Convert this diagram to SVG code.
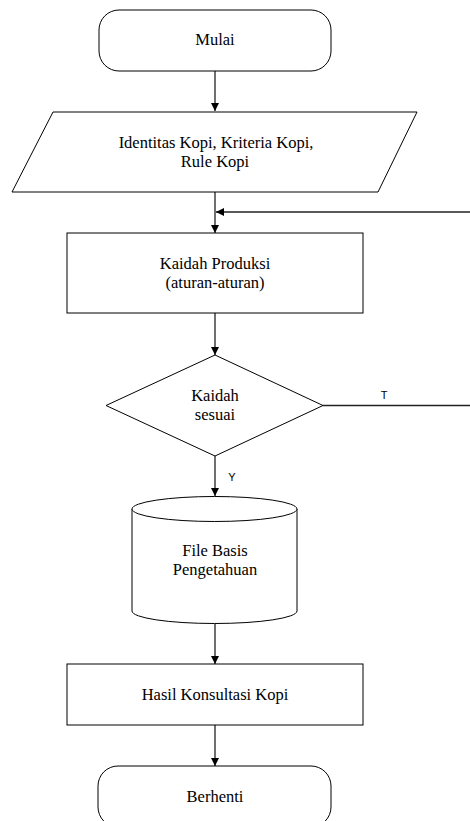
<svg xmlns="http://www.w3.org/2000/svg" width="470" height="821" viewBox="0 0 470 821">
<style>
.shape{fill:#fff;stroke:#000;stroke-width:1}
.lbl{font-family:"Liberation Serif","Times New Roman",serif;font-size:16.5px;fill:#000;text-anchor:middle}
.yt{font-family:"Liberation Sans",Arial,sans-serif;font-size:11px;fill:#000;text-anchor:middle}
.con{stroke:#222;stroke-width:1.3;fill:none}
</style>
<defs>
<marker id="arr" markerUnits="userSpaceOnUse" markerWidth="8" markerHeight="8" refX="8" refY="4" orient="auto">
<path d="M0,0 L8,4 L0,8 z" fill="#000"/>
</marker>
</defs>
<rect width="470" height="821" fill="#fff"/>
<g id="connectors">
<line class="con" x1="215" y1="71" x2="215" y2="111" marker-end="url(#arr)"/>
<line class="con" x1="215" y1="192" x2="215" y2="233" marker-end="url(#arr)"/>
<line class="con" x1="470" y1="212" x2="216" y2="212" marker-end="url(#arr)"/>
<line class="con" x1="215" y1="313" x2="215" y2="355" marker-end="url(#arr)"/>
<line class="con" x1="323" y1="405.5" x2="470" y2="405.5"/>
<line class="con" x1="215" y1="456" x2="215" y2="496" marker-end="url(#arr)"/>
<line class="con" x1="215" y1="624" x2="215" y2="664" marker-end="url(#arr)"/>
<line class="con" x1="215" y1="725" x2="215" y2="766" marker-end="url(#arr)"/>
<text class="yt" x="384" y="398.5">T</text>
<text class="yt" x="232" y="481">Y</text>
</g>
<g id="mulai">
<rect class="shape" x="99" y="10" width="232" height="61" rx="20"/>
<text class="lbl" x="215" y="45">Mulai</text>
</g>
<g id="input">
<polygon class="shape" points="53,112 417,112 378,192 12,192"/>
<text class="lbl" x="216" y="147.5">Identitas Kopi, Kriteria Kopi,</text>
<text class="lbl" x="215" y="166.5">Rule Kopi</text>
</g>
<g id="kaidah-produksi">
<rect class="shape" x="67" y="233" width="296" height="80"/>
<text class="lbl" x="215" y="268.5">Kaidah Produksi</text>
<text class="lbl" x="215" y="287.5">(aturan-aturan)</text>
</g>
<g id="kaidah-sesuai">
<polygon class="shape" points="215,355 323,405.5 215,456 106,405.5"/>
<text class="lbl" x="215" y="401">Kaidah</text>
<text class="lbl" x="215" y="420">sesuai</text>
</g>
<g id="file-basis">
<path class="shape" d="M132,509 L132,611 A82.5,12.5 0 0 0 297,611 L297,509 A82.5,12.5 0 0 0 132,509 Z"/>
<path class="shape" d="M132,509 A82.5,12.5 0 0 0 297,509" fill="none"/>
<text class="lbl" x="215" y="555.5">File Basis</text>
<text class="lbl" x="215" y="574.5">Pengetahuan</text>
</g>
<g id="hasil">
<rect class="shape" x="67" y="664" width="296" height="61"/>
<text class="lbl" x="215" y="700">Hasil Konsultasi Kopi</text>
</g>
<g id="berhenti">
<rect class="shape" x="98" y="766" width="233" height="61" rx="20"/>
<text class="lbl" x="215" y="802">Berhenti</text>
</g>
</svg>
